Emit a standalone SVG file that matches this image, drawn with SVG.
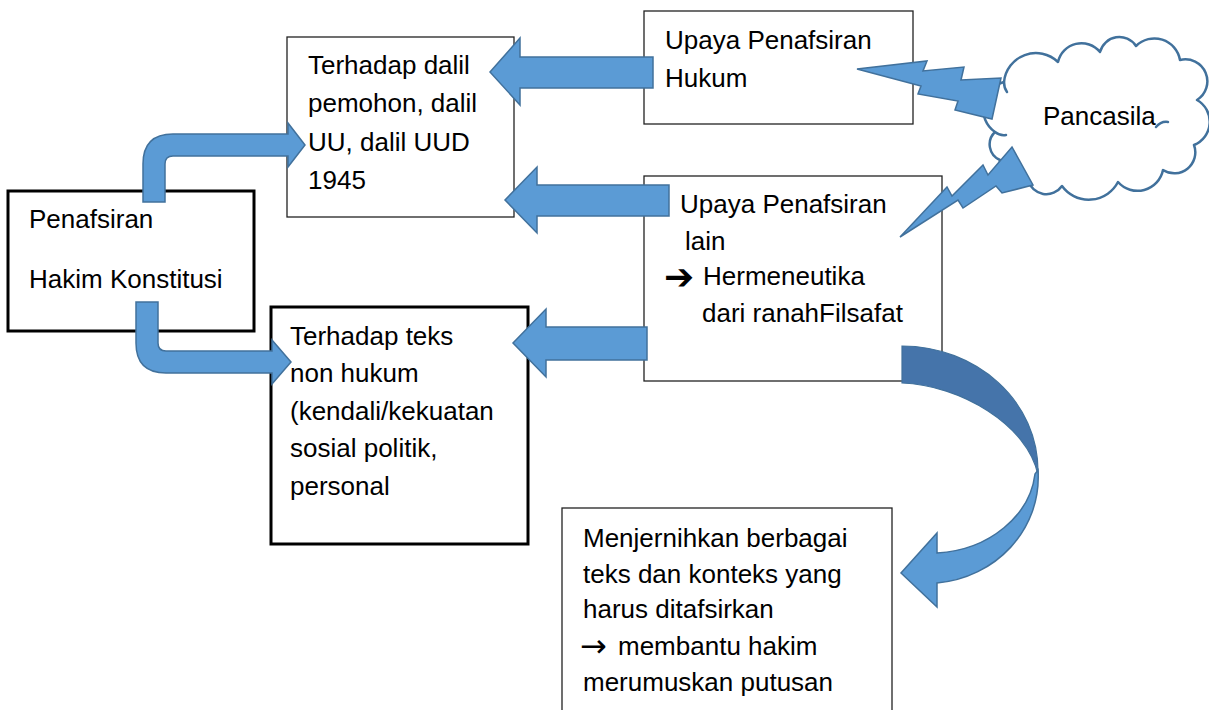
<svg xmlns="http://www.w3.org/2000/svg" width="1209" height="710" viewBox="0 0 1209 710">
<style>
.box{fill:#fff;stroke:#222;stroke-width:1.3}
.thick{fill:#fff;stroke:#000;stroke-width:3}
.t{font-family:"Liberation Sans",Arial,sans-serif;font-size:26px;fill:#000}
.sym{font-family:"DejaVu Sans",sans-serif;font-size:36px;font-weight:bold;fill:#000}
.thin{font-family:"DejaVu Sans",sans-serif;font-size:32px;fill:#000}
.arr{fill:#5b9bd5;stroke:#41719c;stroke-width:1.5;stroke-linejoin:miter}
.dark{fill:#4574aa;stroke:#41719c;stroke-width:1.2}
.cloud{fill:#fff;stroke:#41719c;stroke-width:2.5;stroke-linejoin:round}
.curl{fill:none;stroke:#41719c;stroke-width:2.5;stroke-linecap:round}
</style>
<rect width="1209" height="710" fill="#fff"/>

<g id="penafsiran">
<rect class="thick" x="8" y="191" width="246" height="140"/>
<text class="t" x="29" y="228">Penafsiran</text>
<text class="t" x="29" y="288">Hakim Konstitusi</text>
</g>

<g id="terhadap-dalil">
<rect class="box" x="287" y="37" width="227" height="180"/>
<text class="t" x="308" y="74">Terhadap dalil</text>
<text class="t" x="308" y="112">pemohon, dalil</text>
<text class="t" x="308" y="151">UU, dalil UUD</text>
<text class="t" x="308" y="189">1945</text>
</g>

<g id="upaya-hukum">
<rect class="box" x="644" y="11" width="269" height="113"/>
<text class="t" x="665" y="49">Upaya Penafsiran</text>
<text class="t" x="665" y="87">Hukum</text>
</g>

<g id="upaya-lain">
<rect class="box" x="644" y="176" width="298" height="205"/>
<text class="t" x="680" y="213">Upaya Penafsiran</text>
<text class="t" x="685" y="250">lain</text>
<text class="sym" x="664" y="289">➔</text>
<text class="t" x="703" y="285">Hermeneutika</text>
<text class="t" x="702" y="322">dari ranahFilsafat</text>
</g>

<g id="terhadap-teks">
<rect class="thick" x="271" y="307" width="257" height="237"/>
<text class="t" x="290" y="345">Terhadap teks</text>
<text class="t" x="290" y="382">non hukum</text>
<text class="t" x="290" y="420">(kendali/kekuatan</text>
<text class="t" x="290" y="457">sosial politik,</text>
<text class="t" x="290" y="495">personal</text>
</g>

<g id="menjernihkan">
<rect class="box" x="562" y="508" width="330" height="220"/>
<text class="t" x="583" y="547">Menjernihkan berbagai</text>
<text class="t" x="583" y="583">teks dan konteks yang</text>
<text class="t" x="583" y="618">harus ditafsirkan</text>
<text class="thin" x="580" y="657">→</text>
<text class="t" x="618" y="655">membantu hakim</text>
<text class="t" x="583" y="691">merumuskan putusan</text>
</g>

<g id="pancasila">
<path class="cloud" d="M995,132 A28,28 0 0 1 1004,82 A32,32 0 0 1 1058,62 A24,24 0 0 1 1100,52 A20,20 0 0 1 1136,46 A26,26 0 0 1 1180,60 A22,22 0 0 1 1197,100 A25,25 0 0 1 1194,145 A21,21 0 0 1 1163,170 A26,26 0 0 1 1118,182 A33,33 0 0 1 1062,186 A19,19 0 0 1 1028,180 A19,19 0 0 1 1000,160 A17,17 0 0 1 995,132 Z"/>
<path class="curl" d="M995,132 Q1000,136 1006,135"/>
<path class="curl" d="M1156,127 Q1161,121 1168,122"/>
<path class="curl" d="M1004,82 Q1004,88 1007,92"/>
<text class="t" x="1043" y="125">Pancasila</text>
</g>

<g id="connectors">
<path class="arr" d="M653,57 L520,57 L520,38 L490,72 L520,105 L520,88 L653,88 Z"/>
<path class="arr" d="M669,185 L537,185 L537,167 L505,200 L537,233 L537,216 L669,216 Z"/>
<path class="arr" d="M647,327 L546,327 L546,309 L513,343 L546,377 L546,360 L647,360 Z"/>
<path class="arr" d="M143,202 L143,164 Q143,134 173,134 L288,134 L288,123 L305,145 L288,167 L288,156 L173,156 Q165,156 165,164 L165,202 Z"/>
<path class="arr" d="M136,302 L136,343 Q136,373 166,373 L272,373 L272,384 L291,362 L272,340 L272,351 L166,351 Q158,351 158,343 L158,302 Z"/>
<path class="arr" d="M857,69 L927,61 L923,71 L964,67 L961,80 L1001,78 L992,119 L955,110 L958,101 L918,94 L921,86 Z"/>
<path class="arr" d="M900,237 L947,187 L952,196 L983,165 L988,175 L1012,147 L1033,185 L1002,193 L996,186 L963,208 L958,200 Z"/>
<path class="dark" d="M902,346 C975,346 1040,400 1038,475 C1028,425 960,385 902,383 Z"/>
<path class="arr" d="M1038,470 C1042,530 995,578 937,583 L937,607 L901,573 L937,533 L937,553 C990,550 1030,515 1035,474 Z"/>
</g>
</svg>
